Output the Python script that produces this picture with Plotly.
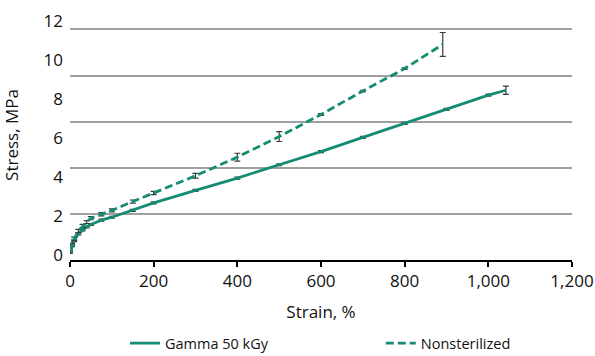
import plotly.graph_objects as go

# Data
gamma_strain = [0, 5, 10, 20, 30, 40, 50, 75, 100, 150, 200, 300, 400, 500, 600, 700, 800, 900, 1000, 1042]
gamma_stress = [0.15, 0.5, 0.75, 1.1, 1.3, 1.45, 1.58, 1.8, 1.95, 2.3, 2.68, 3.32, 3.95, 4.63, 5.30, 6.03, 6.75, 7.46, 8.19, 8.44]
gamma_err = [0.05, 0.05, 0.05, 0.05, 0.05, 0.05, 0.05, 0.05, 0.05, 0.05, 0.05, 0.05, 0.05, 0.05, 0.05, 0.05, 0.05, 0.05, 0.05, 0.21]

nonster_strain = [0, 5, 10, 20, 30, 40, 50, 75, 100, 150, 200, 300, 400, 500, 600, 700, 800, 891]
nonster_stress = [0.2, 0.55, 0.85, 1.25, 1.5, 1.7, 1.9, 2.1, 2.3, 2.75, 3.19, 4.07, 5.02, 6.07, 7.2, 8.4, 9.55, 10.78]
nonster_err = [0.08, 0.08, 0.08, 0.08, 0.08, 0.08, 0.08, 0.08, 0.08, 0.08, 0.08, 0.12, 0.2, 0.25, 0.04, 0.04, 0.04, 0.61]

x_ticks = [0, 200, 400, 600, 800, 1000, 1200]
y_ticks = [0, 2, 4, 6, 8, 10, 12]

TEAL = "#148c74"
FONT = "Open Sans"
ERRC = "#3a3a3a"

fig = go.Figure()
fig.add_trace(go.Scatter(
    x=gamma_strain, y=gamma_stress, mode="lines", name="Gamma 50 kGy",
    line=dict(color=TEAL, width=2.8),
    error_y=dict(type="data", array=gamma_err, visible=True, color=ERRC, thickness=1.2, width=3),
    legend="legend", showlegend=True,
))
fig.add_trace(go.Scatter(
    x=nonster_strain, y=nonster_stress, mode="lines", name="Nonsterilized",
    line=dict(color=TEAL, width=2.8, dash="8px,4px"),
    error_y=dict(type="data", array=nonster_err, visible=True, color=ERRC, thickness=1.2, width=3),
    legend="legend2", showlegend=True,
))

fig.update_layout(
    width=595, height=356,
    margin=dict(l=70, r=23, t=10, b=96, autoexpand=False),
    paper_bgcolor="white", plot_bgcolor="white",
    showlegend=True,
    font=dict(family=FONT, size=17, color="#111"),
    legend=dict(orientation="h", x=0.21, xref="container", xanchor="left",
                y=0.036, yref="container", yanchor="middle",
                font=dict(size=14.5), bgcolor="rgba(0,0,0,0)", itemwidth=30),
    legend2=dict(orientation="h", x=0.64, xref="container", xanchor="left",
                 y=0.036, yref="container", yanchor="middle",
                 font=dict(size=14.5), bgcolor="rgba(0,0,0,0)", itemwidth=30),
)
fig.update_xaxes(
    range=[0, 1200], tickvals=x_ticks, tickformat=",d",
    showline=True, linecolor="black", linewidth=2,
    ticks="outside", ticklen=5, tickwidth=2, tickcolor="black",
    showgrid=False, zeroline=False, automargin=False,
    title=dict(text="Strain, %", standoff=15, font=dict(size=17)),
    tickfont=dict(size=17),
)
fig.update_yaxes(
    range=[-0.236, 12.54], tickvals=y_ticks,
    showline=False, showgrid=False, zeroline=False, automargin=False,
    ticks="", ticklabelstandoff=6,
    minor=dict(tick0=2.12, dtick=2.356, showgrid=True, gridcolor="#a0a0a0", gridwidth=2, ticks=""),
    title=dict(text="Stress, MPa", standoff=20, font=dict(size=17)),
    tickfont=dict(size=17),
)

fig.write_html("out.html")
